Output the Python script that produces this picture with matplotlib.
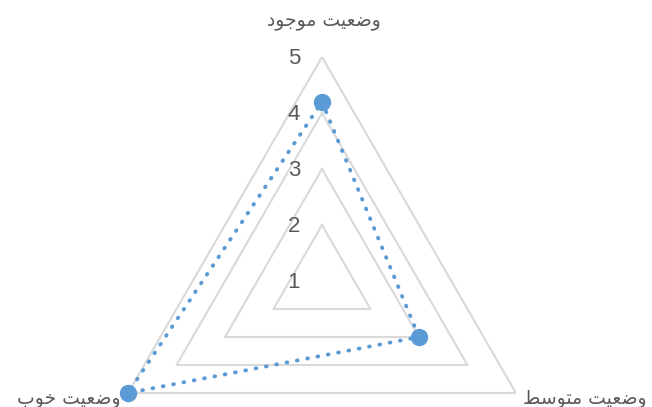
import numpy as np
import matplotlib
matplotlib.use("Agg")
import matplotlib.pyplot as plt

# chart data
categories = ["وضعیت موجود", "وضعیت متوسط", "وضعیت خوب"]
values = [4.2, 3.0, 5.0]
levels = [2, 3, 4, 5]
tick_labels = ["1", "2", "3", "4", "5"]

BLUE = "#5B9BD5"
GRID = "#D9D9D9"
TEXT = "#595959"

# minimal arabic/persian shaping: (isolated, final, initial, medial)
FORMS = {
    "و": ("\uFEED", "\uFEEE", None, None),
    "د": ("\uFEA9", "\uFEAA", None, None),
    "ض": ("\uFEBD", "\uFEBE", "\uFEBF", "\uFEC0"),
    "ع": ("\uFEC9", "\uFECA", "\uFECB", "\uFECC"),
    "ی": ("\uFBFC", "\uFBFD", "\uFEF3", "\uFEF4"),
    "ت": ("\uFE95", "\uFE96", "\uFE97", "\uFE98"),
    "م": ("\uFEE1", "\uFEE2", "\uFEE3", "\uFEE4"),
    "ج": ("\uFE9D", "\uFE9E", "\uFE9F", "\uFEA0"),
    "س": ("\uFEB1", "\uFEB2", "\uFEB3", "\uFEB4"),
    "ط": ("\uFEC1", "\uFEC2", "\uFEC3", "\uFEC4"),
    "خ": ("\uFEA5", "\uFEA6", "\uFEA7", "\uFEA8"),
    "ب": ("\uFE8F", "\uFE90", "\uFE91", "\uFE92"),
}


def joins_left(ch):
    return ch in FORMS and FORMS[ch][2] is not None


def shape(text):
    out = []
    for i, ch in enumerate(text):
        if ch not in FORMS:
            out.append(ch)
            continue
        prev = text[i - 1] if i > 0 else ""
        nxt = text[i + 1] if i + 1 < len(text) else ""
        p = joins_left(prev)
        n = joins_left(ch) and nxt in FORMS
        iso, fin, ini, med = FORMS[ch]
        if p and n:
            out.append(med)
        elif n:
            out.append(ini)
        elif p:
            out.append(fin)
        else:
            out.append(iso)
    return "".join(reversed(out))


fig = plt.figure(figsize=(6.52, 4.07), dpi=100)
ax = fig.add_axes([0.1503, -0.2408, 0.6871, 1.1007], projection="polar")
ax.set_theta_offset(np.pi / 2)
ax.set_theta_direction(-1)
ax.set_ylim(1, 5)
ax.grid(False)
ax.set_xticks([])
ax.set_yticks([])
ax.spines["polar"].set_visible(False)
ax.patch.set_alpha(0)

angles = np.linspace(0, 2 * np.pi, len(categories), endpoint=False)
closed = np.concatenate([angles, angles[:1]])

for lvl in levels:
    ax.plot(closed, [lvl] * len(closed), color=GRID, lw=1.5, zorder=1)

vals = np.concatenate([values, values[:1]])
ax.plot(closed, vals, color=BLUE, lw=2.8, linestyle=(0, (0.2, 2.5)),
        dash_capstyle="round", zorder=2, clip_on=False)
ax.plot(angles, values, "o", color=BLUE, ms=11.5, zorder=3, clip_on=False)

# value axis labels along the top spoke
for i, lab in enumerate(tick_labels):
    ax.annotate(lab, xy=(0, i + 1), xytext=(-22, -1), textcoords="offset pixels",
                ha="right", va="center", fontsize=16, color=TEXT,
                family="Liberation Sans", annotation_clip=False)

# category labels
offsets = [(2, 37, "center"), (7, -5, "left"), (-7, -5, "right")]
for ang, cat, (dx, dy, ha) in zip(angles, categories, offsets):
    ax.annotate(shape(cat), xy=(ang, 5), xytext=(dx, dy), textcoords="offset pixels",
                ha=ha, va="center", fontsize=13.5, color=TEXT,
                family="DejaVu Sans", annotation_clip=False)

fig.savefig("out.png", dpi=100)
